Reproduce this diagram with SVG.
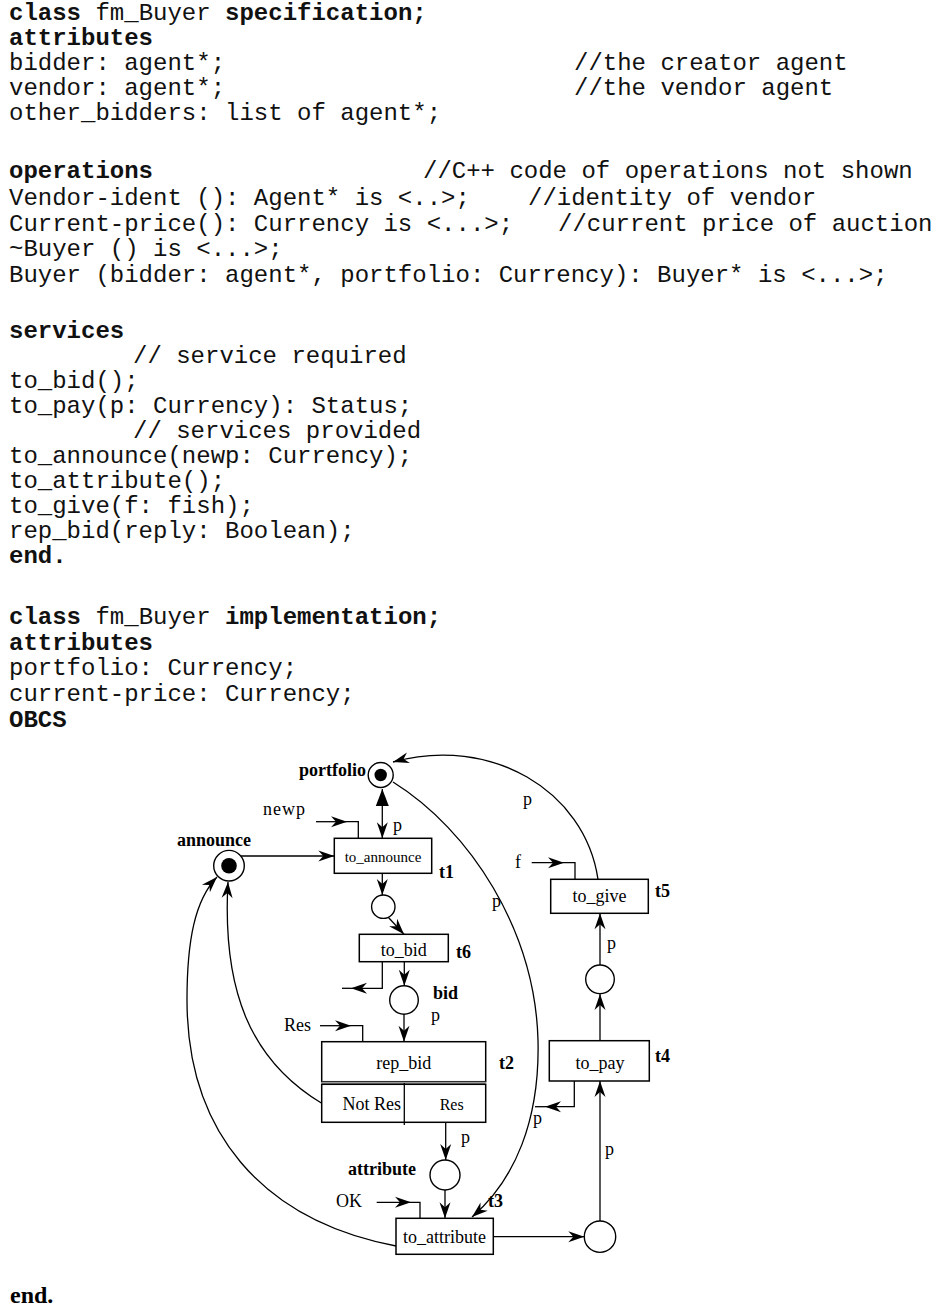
<svg xmlns="http://www.w3.org/2000/svg" width="935" height="1307" viewBox="0 0 935 1307">
<style>
.m{font-family:"Liberation Mono","Courier New",monospace;font-size:24px;fill:#111}
.b{font-weight:bold}
.s{font-family:"Liberation Serif","Times New Roman",serif;font-size:18px;fill:#000}
.sb{font-family:"Liberation Serif","Times New Roman",serif;font-size:18px;font-weight:bold;fill:#000}
.c{text-anchor:middle}
.ln{fill:none;stroke:#000;stroke-width:1.3}
.ar{marker-end:url(#a)}
.bx{fill:#fff;stroke:#000;stroke-width:1.5}
.pl{fill:#fff;stroke:#000;stroke-width:1.4}
</style>
<defs>
<marker id="a" markerUnits="userSpaceOnUse" viewBox="0 0 17 11" markerWidth="17" markerHeight="11" refX="16" refY="5.5" orient="auto" overflow="visible">
<path d="M0,0 L16,5.5 L0,11 L5,5.5 z" fill="#000"/>
</marker>
<marker id="t" markerUnits="userSpaceOnUse" viewBox="0 0 17 13" markerWidth="17" markerHeight="13" refX="17" refY="6.5" orient="auto-start-reverse" overflow="visible">
<path d="M0,0 L17,6.5 L0,13 z" fill="#000"/>
</marker>
</defs>

<g id="code">
<text class="m" x="9" y="20"><tspan class="b">class</tspan> fm_Buyer <tspan class="b">specification;</tspan></text>
<text class="m b" x="9" y="45">attributes</text>
<text class="m" x="9" y="70">bidder: agent*;</text>
<text class="m" x="574" y="70">//the creator agent</text>
<text class="m" x="9" y="95">vendor: agent*;</text>
<text class="m" x="574" y="95">//the vendor agent</text>
<text class="m" x="9" y="120">other_bidders: list of agent*;</text>
<text class="m b" x="9" y="178">operations</text>
<text class="m" x="423" y="178">//C++ code of operations not shown</text>
<text class="m" x="9" y="205">Vendor-ident (): Agent* is &lt;..&gt;;</text>
<text class="m" x="528" y="205">//identity of vendor</text>
<text class="m" x="9" y="231">Current-price(): Currency is &lt;...&gt;;</text>
<text class="m" x="558" y="231">//current price of auction</text>
<text class="m" x="9" y="256">~Buyer () is &lt;...&gt;;</text>
<text class="m" x="9" y="282">Buyer (bidder: agent*, portfolio: Currency): Buyer* is &lt;...&gt;;</text>
<text class="m b" x="9" y="338">services</text>
<text class="m" x="133" y="363">// service required</text>
<text class="m" x="9" y="388">to_bid();</text>
<text class="m" x="9" y="413">to_pay(p: Currency): Status;</text>
<text class="m" x="133" y="438">// services provided</text>
<text class="m" x="9" y="463">to_announce(newp: Currency);</text>
<text class="m" x="9" y="488">to_attribute();</text>
<text class="m" x="9" y="513">to_give(f: fish);</text>
<text class="m" x="9" y="538">rep_bid(reply: Boolean);</text>
<text class="m b" x="9" y="563">end.</text>
<text class="m" x="9" y="624"><tspan class="b">class</tspan> fm_Buyer <tspan class="b">implementation;</tspan></text>
<text class="m b" x="9" y="650">attributes</text>
<text class="m" x="9" y="675">portfolio: Currency;</text>
<text class="m" x="9" y="701">current-price: Currency;</text>
<text class="m b" x="9" y="727">OBCS</text>
</g>

<g id="connectors">
<path class="ln" d="M382.3,789 V838.3" marker-start="url(#t)" marker-end="url(#a)"/>
<path class="ln ar" d="M316,821.7 H347"/>
<path class="ln" d="M347,821.7 H358.3 V838.3"/>
<path class="ln ar" d="M241,856 H334.3"/>
<path class="ln ar" d="M382.3,873.3 V895"/>
<path class="ln ar" d="M388,917 L404,934.3"/>
<path class="ln ar" d="M404.3,961.7 V985.7"/>
<path class="ln ar" d="M382.3,961.7 V988.3 H351"/>
<path class="ln" d="M351,988.3 H342"/>
<path class="ln ar" d="M404,1014.3 V1041.7"/>
<path class="ln ar" d="M320,1025.7 H351"/>
<path class="ln" d="M351,1025.7 H362.7 V1041.7"/>
<path class="ln ar" d="M445.7,1122.3 V1160"/>
<path class="ln ar" d="M445,1190 V1218.3"/>
<path class="ln ar" d="M376.7,1202.3 H411"/>
<path class="ln" d="M411,1202.3 H420 V1218.3"/>
<path class="ln ar" d="M493.3,1236.7 H584.3"/>
<path class="ln ar" d="M600,1221 V1081"/>
<path class="ln ar" d="M600,1040.7 V994"/>
<path class="ln ar" d="M600,965 V913.3"/>
<path class="ln ar" d="M574.3,1081 V1106.7 H545"/>
<path class="ln" d="M545,1106.7 H535"/>
<path class="ln ar" d="M531.7,862.7 H564"/>
<path class="ln" d="M564,862.7 H575 V879.3"/>
<path class="ln ar" d="M598,879.3 C585,790 490,735 393,762"/>
<path class="ln ar" d="M393,782 C470,830 535,930 538,1040 C540,1120 515,1180 472,1217"/>
<path class="ln ar" d="M321.7,1103.3 C250,1060 222,990 228,882"/>
<path class="ln ar" d="M396,1246 C260,1220 187,1130 187,1000 C187,940 195,900 217,877"/>
</g>

<g id="portfolio">
<circle class="pl" cx="380.7" cy="775" r="12.5"/>
<circle cx="380.7" cy="775" r="6.2" fill="#000"/>
<text class="sb" x="366" y="776" text-anchor="end">portfolio</text>
</g>
<g id="announce">
<circle class="pl" cx="229" cy="865.7" r="15.3"/>
<circle cx="229" cy="865.7" r="7.8" fill="#000"/>
<text class="sb" x="177" y="846">announce</text>
</g>
<g id="t1">
<rect class="bx" x="334.3" y="838.3" width="97.4" height="35"/>
<text class="s c" x="383" y="862" style="font-size:15px">to_announce</text>
<text class="sb" x="439" y="878">t1</text>
</g>
<g id="labels-t1">
<text class="s" x="263" y="815" letter-spacing="1">newp</text>
<text class="s" x="393" y="831">p</text>
</g>
<g id="p1">
<circle class="pl" cx="383.3" cy="906.7" r="11.7"/>
</g>
<g id="t6">
<rect class="bx" x="359.3" y="934.3" width="89" height="27.4"/>
<text class="s c" x="403.8" y="956">to_bid</text>
<text class="sb" x="456" y="958">t6</text>
</g>
<g id="bid">
<circle class="pl" cx="404" cy="1000" r="14.3"/>
<text class="sb" x="433" y="999">bid</text>
<text class="s" x="431" y="1021">p</text>
</g>
<g id="t2">
<rect class="bx" x="321.7" y="1041.7" width="164" height="40"/>
<rect x="321.7" y="1081.7" width="164" height="2.6" fill="#999"/>
<rect class="bx" x="321.7" y="1084.3" width="164" height="38"/>
<line x1="404.3" y1="1083" x2="404.3" y2="1125" stroke="#000" stroke-width="1.3"/>
<text class="s c" x="403.7" y="1069">rep_bid</text>
<text class="s c" x="371.8" y="1110">Not Res</text>
<text class="s c" x="451.7" y="1110" style="font-size:16px">Res</text>
<text class="sb" x="499" y="1069">t2</text>
<text class="s" x="284" y="1031">Res</text>
</g>
<g id="attribute">
<circle class="pl" cx="445" cy="1175" r="15"/>
<text class="sb" x="348" y="1175">attribute</text>
<text class="s" x="461" y="1143">p</text>
</g>
<g id="t3">
<rect class="bx" x="396" y="1218.3" width="97.3" height="36"/>
<text class="s c" x="444.6" y="1243">to_attribute</text>
<text class="sb" x="488" y="1207">t3</text>
<text class="s" x="336" y="1207">OK</text>
</g>
<g id="p5">
<circle class="pl" cx="600" cy="1236.7" r="15.7"/>
<text class="s" x="605" y="1155">p</text>
</g>
<g id="t4">
<rect class="bx" x="549.3" y="1040.7" width="100" height="40.3"/>
<text class="s c" x="600" y="1069">to_pay</text>
<text class="sb" x="655" y="1062">t4</text>
<text class="s" x="533" y="1124">p</text>
</g>
<g id="p4">
<circle class="pl" cx="600" cy="979.3" r="14.3"/>
<text class="s" x="607" y="949">p</text>
</g>
<g id="t5">
<rect class="bx" x="550.7" y="879.3" width="97.6" height="34"/>
<text class="s c" x="599.5" y="902">to_give</text>
<text class="sb" x="655" y="897">t5</text>
<text class="s" x="515" y="868">f</text>
<text class="s" x="523" y="805">p</text>
<text class="s" x="492" y="907">p</text>
</g>
<text class="sb" x="10" y="1303" style="font-size:24px">end.</text>
</svg>
